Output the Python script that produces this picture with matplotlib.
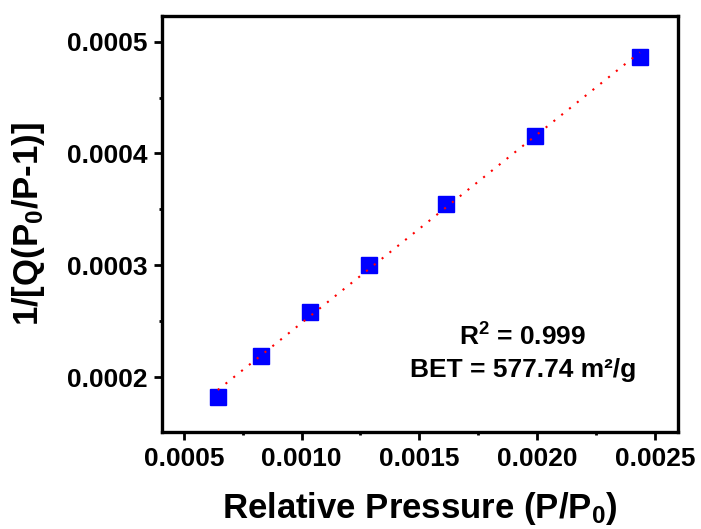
import numpy as np
import matplotlib.pyplot as plt
from matplotlib.ticker import MultipleLocator, FormatStrFormatter

plt.rcParams['font.family'] = ['Liberation Sans', 'DejaVu Sans']
plt.rcParams['font.weight'] = 'bold'
plt.rcParams['mathtext.fontset'] = 'custom'
plt.rcParams['mathtext.rm'] = 'Liberation Sans:bold'
plt.rcParams['mathtext.it'] = 'Liberation Sans:bold'
plt.rcParams['mathtext.bf'] = 'Liberation Sans:bold'

# BET plot points
rel_pressure = [0.000644, 0.000827, 0.001035, 0.001285, 0.001612, 0.001990, 0.002436]
bet_term = [0.000182, 0.000219, 0.000258, 0.000300, 0.000355, 0.000416, 0.000486]
r_squared = 0.999
bet_area = 577.74

x = np.array(rel_pressure)
y = np.array(bet_term)
slope, intercept = np.polyfit(x, y, 1)

fig = plt.figure(figsize=(7.01, 5.29), dpi=100)
ax = fig.add_axes([0.231, 0.1834, 0.736, 0.7866])

ax.plot(x, slope * x + intercept, color='red', lw=1.5, dashes=(1, 3.8), zorder=3)
ax.plot(x, y, 's', color='#0000ff', markersize=11.5, zorder=2)

ax.set_xlim(0.000407, 0.0025976)
ax.set_ylim(0.000151, 0.000523)
ax.xaxis.set_major_locator(MultipleLocator(0.0005))
ax.xaxis.set_minor_locator(MultipleLocator(0.00025))
ax.yaxis.set_major_locator(MultipleLocator(0.0001))
ax.yaxis.set_minor_locator(MultipleLocator(0.00005))
ax.xaxis.set_major_formatter(FormatStrFormatter('%.4f'))
ax.yaxis.set_major_formatter(FormatStrFormatter('%.4f'))

for s in ax.spines.values():
    s.set_linewidth(2.4)
ax.tick_params(which='major', direction='out', length=5.5, width=2, labelsize=19, pad=5)
ax.tick_params(which='minor', direction='out', length=2.5, width=2)

ax.set_xlabel('Relative Pressure (P/P$_0$)', fontsize=25, fontweight='bold', labelpad=14)
ax.set_ylabel('1/[Q(P$_0$/P-1)]', fontsize=25, fontweight='bold', labelpad=14)

ax.text(0.70, 0.228, 'R$^2$ = {:.3f}'.format(r_squared), transform=ax.transAxes,
        ha='center', va='center', fontsize=19, fontweight='bold')
ax.text(0.70, 0.149, 'BET = {:.2f} m²/g'.format(bet_area), transform=ax.transAxes,
        ha='center', va='center', fontsize=19, fontweight='bold')

fig.savefig('out.png', dpi=100)
